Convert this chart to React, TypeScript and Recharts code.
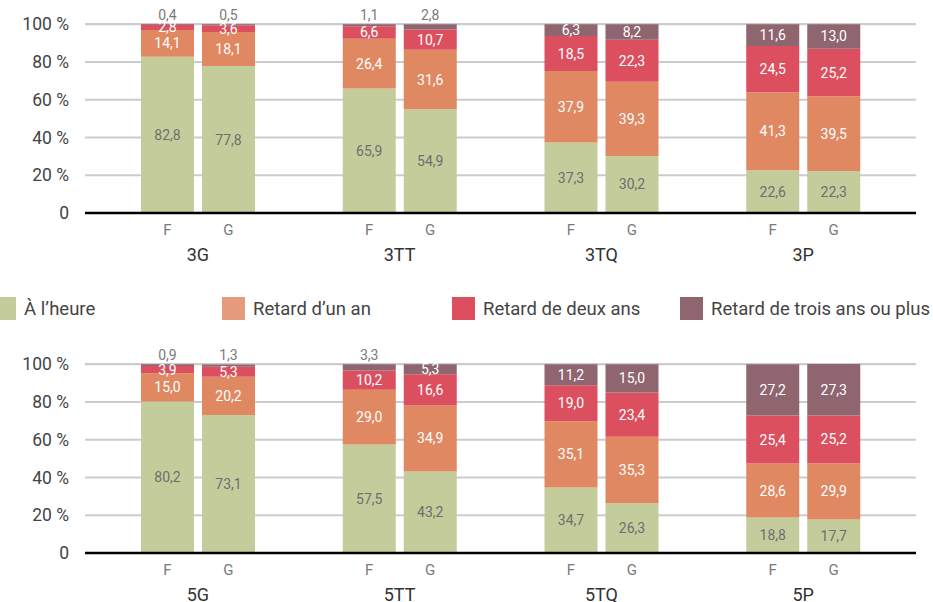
import { BarChart, Bar, XAxis, YAxis, CartesianGrid, LabelList } from 'recharts';

const topCategories = ['3G', '3TT', '3TQ', '3P'];
const bottomCategories = ['5G', '5TT', '5TQ', '5P'];

// F / G values, top chart (3e)
const topFOnTime = [82.8, 65.9, 37.3, 22.6];
const topFOneYear = [14.1, 26.4, 37.9, 41.3];
const topFTwoYears = [2.8, 6.6, 18.5, 24.5];
const topFThreePlus = [0.4, 1.1, 6.3, 11.6];
const topGOnTime = [77.8, 54.9, 30.2, 22.3];
const topGOneYear = [18.1, 31.6, 39.3, 39.5];
const topGTwoYears = [3.6, 10.7, 22.3, 25.2];
const topGThreePlus = [0.5, 2.8, 8.2, 13.0];

// bottom chart (5e)
const botFOnTime = [80.2, 57.5, 34.7, 18.8];
const botFOneYear = [15.0, 29.0, 35.1, 28.6];
const botFTwoYears = [3.9, 10.2, 19.0, 25.4];
const botFThreePlus = [0.9, 3.3, 11.2, 27.2];
const botGOnTime = [73.1, 43.2, 26.3, 17.7];
const botGOneYear = [20.2, 34.9, 35.3, 29.9];
const botGTwoYears = [5.3, 16.6, 23.4, 25.2];
const botGThreePlus = [1.3, 5.3, 15.0, 27.3];

const yTicks = [0, 20, 40, 60, 80, 100];
const groupLabels = ['F', 'G'];
const seriesNames = ['À l’heure', 'Retard d’un an', 'Retard de deux ans', 'Retard de trois ans ou plus'];

const COLORS = ['#c5cc9c', '#e08862', '#dc4f5e', '#8f6570'];
const LEGEND_COLORS = ['#c5cc9c', '#e59b7c', '#dc4f5e', '#8f6570'];

function buildRows(cats: string[], f: number[][], g: number[][]) {
  return cats.map((cat, i) => ({
    cat,
    f0: f[0][i], f1: f[1][i], f2: f[2][i], f3: f[3][i],
    g0: g[0][i], g1: g[1][i], g2: g[2][i], g3: g[3][i],
  }));
}

const topData = buildRows(
  topCategories,
  [topFOnTime, topFOneYear, topFTwoYears, topFThreePlus],
  [topGOnTime, topGOneYear, topGTwoYears, topGThreePlus],
);
const bottomData = buildRows(
  bottomCategories,
  [botFOnTime, botFOneYear, botFTwoYears, botFThreePlus],
  [botGOnTime, botGOneYear, botGTwoYears, botGThreePlus],
);

const fmt = (v: number) => v.toFixed(1).replace('.', ',');

function segmentLabel(fill: string, smallOnTop: boolean) {
  return (props: any) => {
    const { x, y, width, height, value } = props;
    if (value == null) return null;
    const cx = Number(x) + Number(width) / 2;
    const above = smallOnTop && Number(value) < 4;
    const ty = above ? Number(y) - 9 : Number(y) + Number(height) / 2;
    return (
      <text
        x={cx}
        y={ty}
        textAnchor="middle"
        dominantBaseline="central"
        fill={above ? '#7a7a7a' : fill}
        fontSize={14}
      >
        {fmt(Number(value))}
      </text>
    );
  };
}

function CategoryTick(props: any) {
  const { x, y, payload } = props;
  return (
    <g>
      <text x={x - 30.5} y={y + 17} textAnchor="middle" dominantBaseline="central" fill="#7a7a7a" fontSize={15}>
        {groupLabels[0]}
      </text>
      <text x={x + 30.5} y={y + 17} textAnchor="middle" dominantBaseline="central" fill="#7a7a7a" fontSize={15}>
        {groupLabels[1]}
      </text>
      <text x={x} y={y + 41} textAnchor="middle" dominantBaseline="central" fill="#333" fontSize={18}>
        {payload.value}
      </text>
    </g>
  );
}

function StackChart({ data, height, axisHeight }: { data: any[]; height: number; axisHeight: number }) {
  const labelFills = ['#6e6e6e', '#ffffff', '#ffffff', '#ffffff'];
  return (
    <BarChart
      width={933}
      height={height}
      data={data}
      margin={{ top: 24, right: 17, bottom: 0, left: 0 }}
      barSize={53}
      barGap={8}
    >
      <CartesianGrid vertical={false} stroke="#cccccc" strokeWidth={2} />
      <XAxis
        dataKey="cat"
        height={axisHeight}
        padding={{ left: 12, right: 12 }}
        tickLine={false}
        tickSize={0}
        tickMargin={0}
        axisLine={{ stroke: '#000', strokeWidth: 2.5 }}
        tick={(p: any) => <CategoryTick {...p} />}
        interval={0}
      />
      <YAxis
        width={85}
        domain={[0, 100]}
        ticks={yTicks}
        tickFormatter={(v: number) => (v === 0 ? '0' : `${v} %`)}
        tickLine={false}
        axisLine={false}
        tickSize={0}
        tickMargin={16}
        tick={{ fill: '#444', fontSize: 17.5 }}
      />
      {[0, 1, 2, 3].map((i) => (
        <Bar key={`f${i}`} dataKey={`f${i}`} stackId="F" fill={COLORS[i]} isAnimationActive={false}>
          <LabelList dataKey={`f${i}`} content={segmentLabel(labelFills[i], i === 3)} />
        </Bar>
      ))}
      {[0, 1, 2, 3].map((i) => (
        <Bar key={`g${i}`} dataKey={`g${i}`} stackId="G" fill={COLORS[i]} isAnimationActive={false}>
          <LabelList dataKey={`g${i}`} content={segmentLabel(labelFills[i], i === 3)} />
        </Bar>
      ))}
    </BarChart>
  );
}

const legendLeft = [-7, 222, 452, 680];

export default function App() {
  return (
    <div
      style={{
        position: 'absolute',
        left: 0,
        top: 0,
        width: 933,
        height: 602,
        overflow: 'hidden',
        background: '#fff',
        fontFamily: 'Roboto, sans-serif',
      }}
    >
      <div style={{ position: 'absolute', left: 0, top: 0 }}>
        <StackChart data={topData} height={270} axisHeight={57} />
      </div>
      {seriesNames.map((name, i) => (
        <div
          key={name}
          style={{
            position: 'absolute',
            left: legendLeft[i],
            top: 297,
            height: 23,
            display: 'flex',
            alignItems: 'center',
            whiteSpace: 'nowrap',
          }}
        >
          <span style={{ width: 23, height: 23, background: LEGEND_COLORS[i], display: 'inline-block' }} />
          <span style={{ marginLeft: 8, fontSize: 18.5, color: '#444' }}>{name}</span>
        </div>
      ))}
      <div style={{ position: 'absolute', left: 0, top: 340 }}>
        <StackChart data={bottomData} height={262} axisHeight={49} />
      </div>
    </div>
  );
}
